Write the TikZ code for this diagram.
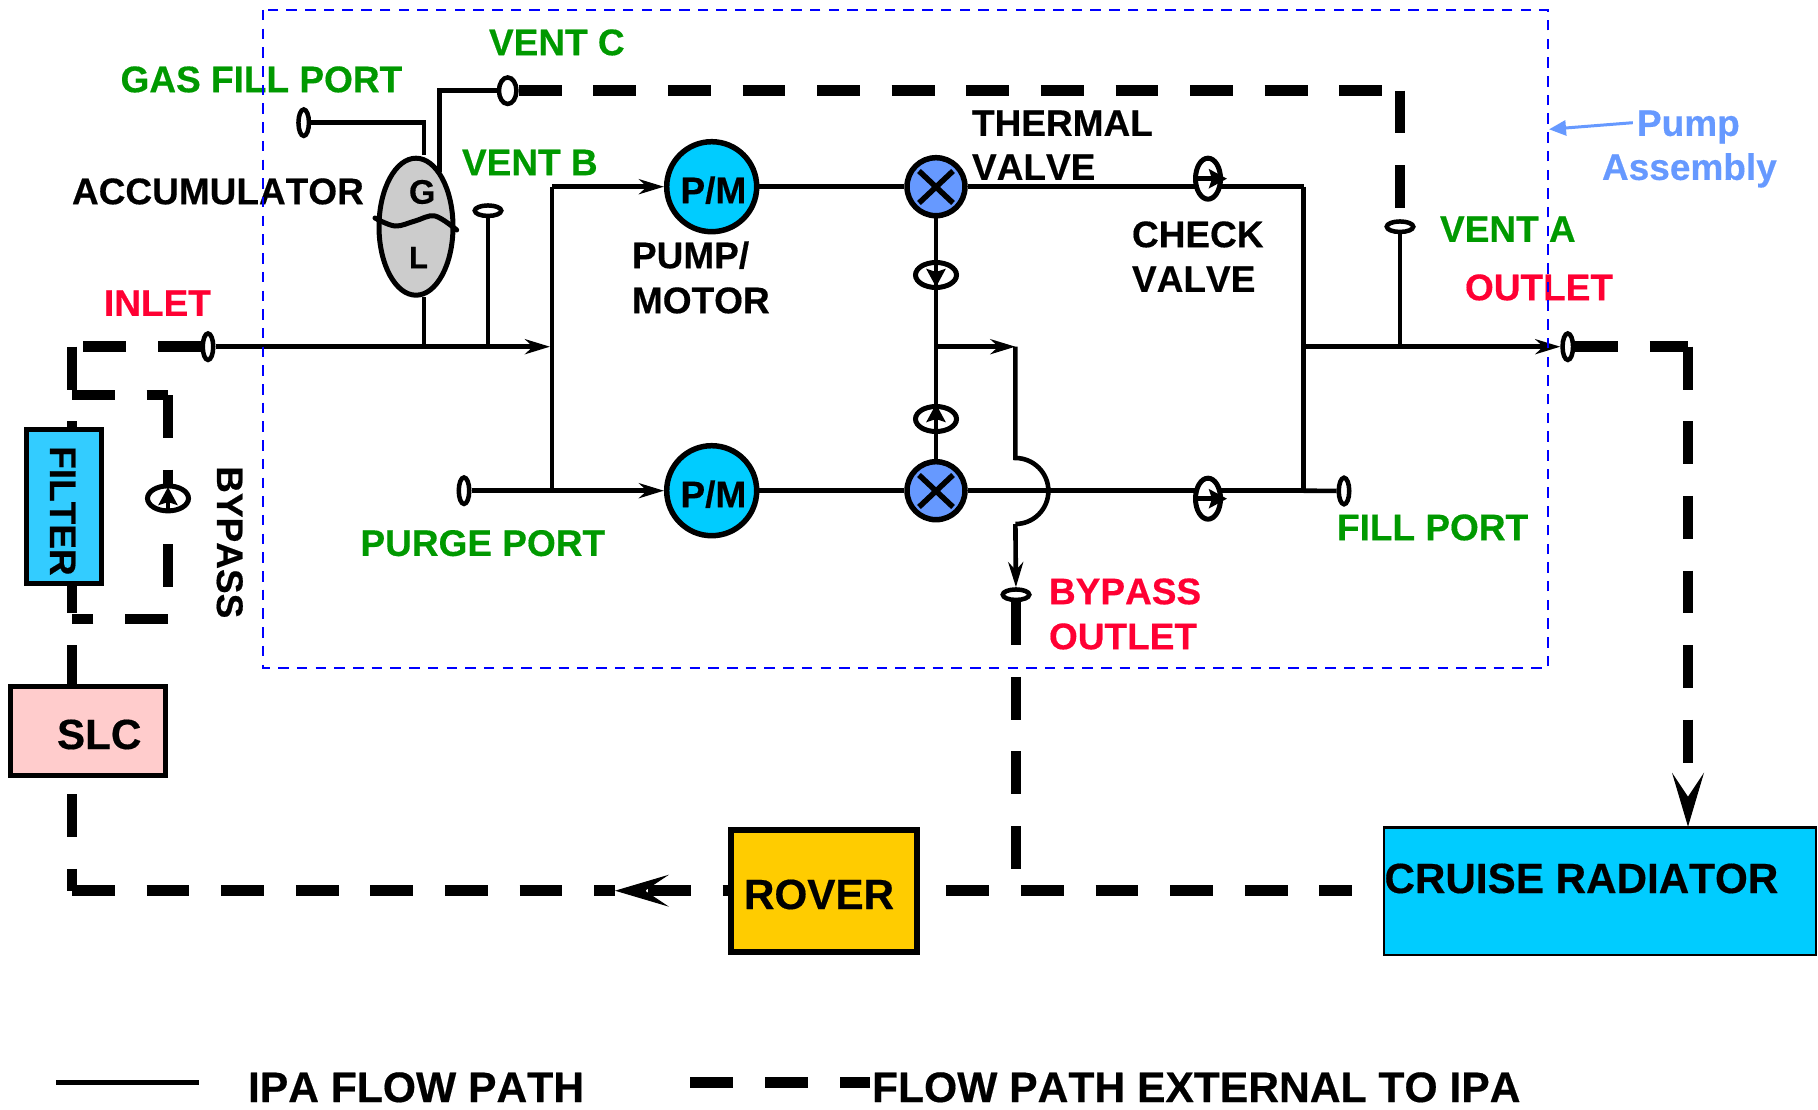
\documentclass[tikz,border=0pt]{standalone}
\usepackage{fontspec}
\setmainfont{Liberation Sans}[Kerning=Off,BoldFeatures={FakeBold=0.4}]
\usetikzlibrary{arrows.meta,shapes.geometric}
\definecolor{lblgreen}{HTML}{009900}
\definecolor{lblred}{HTML}{FF0033}
\definecolor{lblblue}{HTML}{6699FF}
\definecolor{boxblue}{HTML}{33CCFF}
\definecolor{cyanfill}{HTML}{00CCFF}
\definecolor{pinkfill}{HTML}{FFCCCC}
\definecolor{roverfill}{HTML}{FFCC00}
\definecolor{asmblue}{HTML}{0000FF}
\tikzset{
  txt/.style={anchor=base west,inner sep=0pt,outer sep=0pt,yshift=0.8pt,font=\fontsize{37}{37}\selectfont\bfseries},
  big/.style={txt,yshift=-0.8pt,font=\fontsize{42.2}{42.2}\selectfont\bfseries},
  green/.style={txt,text=lblgreen},
  red/.style={txt,text=lblred},
  flow/.style={line width=4.6pt,line cap=butt,line join=miter},
  ext/.style={line width=10.7pt,line cap=butt,dash pattern=on 42.8pt off 31.8pt},
  portv/.style={ellipse,draw,line width=4.5pt,fill=white,inner sep=0pt,minimum width=10.5pt,minimum height=26.5pt},
  porth/.style={ellipse,draw,line width=4.5pt,fill=white,inner sep=0pt,minimum width=26.5pt,minimum height=10.5pt},
  pumpnode/.style={circle,draw,line width=5.5pt,fill=cyanfill,inner sep=0pt,minimum size=90pt},
  valvenode/.style={circle,draw,line width=5.5pt,fill=lblblue,inner sep=0pt,minimum size=58pt},
  chkh/.style={ellipse,draw,line width=5pt,fill=white,inner sep=0pt,minimum width=41pt,minimum height=25pt},
  chkv/.style={ellipse,draw,line width=5pt,fill=white,inner sep=0pt,minimum width=25pt,minimum height=41pt},
  arr/.style={-{Stealth[length=25pt,width=15pt,inset=8pt]}},
  chktip/.style={-{Stealth[length=18pt,width=19pt,inset=3pt]}},
  bigtip/.style={line width=1pt,-{Stealth[length=54pt,width=32pt,inset=24pt]}},
  boxnode/.style={rectangle,draw,inner sep=0pt}
}
\begin{document}
\begin{tikzpicture}[x=1pt,y=-1pt]
\useasboundingbox (0,0) rectangle (1818,1110);
\fill[white] (0,0) rectangle (1818,1110);

% ports
\node[portv] (inlet) at (208,346.7) {};
\node[portv] (gasport) at (303.7,122.7) {};
\node[portv,minimum width=17.5pt] (ventC) at (507.7,90.7) {};
\node[porth] (ventB) at (488,210.7) {};
\node[porth] (ventA) at (1400,226.7) {};
\node[portv] (purge) at (464,490.7) {};
\node[portv] (fillport) at (1344,491) {};
\node[portv] (outletport) at (1567.8,346.7) {};
\node[porth] (bypassport) at (1016,594.7) {};

% junctions and corners
\coordinate (cTL) at (72,346.7);
\coordinate (cBL) at (72,890.7);
\coordinate (cIn) at (72,395);
\coordinate (cInR) at (168,395);
\coordinate (cByE) at (168,612);
\coordinate (cByB) at (168,619);
\coordinate (cByL) at (72,619);
\coordinate (cArrowRover) at (615,890.7);
\coordinate (cArrowRoverB) at (646,890.7);
\coordinate (cBusW) at (648,890.7);
\coordinate (cBusE) at (1352,890.7);
\coordinate (cBypassB) at (1016,885);
\coordinate (cVentCR) at (1400,90.7);
\coordinate (cOutR) at (1688,346.7);
\coordinate (cRadEnd) at (1688,765);
\coordinate (cRadA) at (1688,798);
\coordinate (cRadIn) at (1688,826.7);

% external flow path
\draw[ext] (inlet) -- (cTL);
\draw[ext] (cTL) -- (cBL);
\draw[ext] (cIn) -- (cInR);
\draw[ext] (cInR) -- (cByE);
\draw[ext] (cByB) -- (cByL);
\draw[ext] (cBL) -- (cArrowRover);
\draw[bigtip] (cArrowRoverB) -- (cArrowRover);
\draw[ext] (cBusW) -- (cBusE);
\draw[ext] (bypassport) -- (cBypassB);
\draw[ext] (ventC) -- (cVentCR);
\draw[ext] (cVentCR) -- (ventA);
\draw[ext] (outletport) -- (cOutR);
\draw[ext] (cOutR) -- (cRadEnd);
\draw[bigtip] (cRadA) -- (cRadIn);

% boxes
\node[boxnode,line width=5pt,fill=boxblue,minimum width=75pt,minimum height=154pt] (filter) at (64,506.5) {};
\node[boxnode,line width=5pt,fill=pinkfill,minimum width=155pt,minimum height=89pt] (slc) at (88,731) {};
\node[boxnode,line width=6pt,fill=roverfill,minimum width=186pt,minimum height=122pt] (rover) at (824,891) {};
\node[boxnode,line width=2.2pt,fill=cyanfill,minimum width=432pt,minimum height=127.5pt] (radiator) at (1600,891.2) {};

% accumulator
\node[ellipse,draw,line width=5pt,fill=black!20,inner sep=0pt,minimum width=74pt,minimum height=137pt] (accu) at (416,226.7) {};
\draw[line width=5pt,line cap=round] plot[smooth,tension=0.6] coordinates {(375,218) (395,226) (415,221) (435,216) (456.7,230)};

% pumps and valves
\node[pumpnode] (pumpA) at (711.7,186.7) {};
\node[pumpnode] (pumpB) at (711.7,490.7) {};
\node[valvenode] (valveA) at (936,186.7) {};
\node[valvenode] (valveB) at (936,490.7) {};
\draw[line width=5.5pt] (919,171) -- (953,203) (953,171) -- (919,203);
\draw[line width=5.5pt] (919,475) -- (953,507) (953,475) -- (919,507);

\node[chkh] (chkC) at (936,275) {};
\node[chkh] (chkD) at (936,419) {};
\node[chkh] (chkE) at (168,498.4) {};

% coordinates of the thin flow path
\coordinate (jGas) at (424,155);
\coordinate (jVc) at (439.7,172);
\coordinate (jAb) at (424,297);
\coordinate (jAm) at (424,346.7);
\coordinate (jVb) at (488,346.7);
\coordinate (jMain) at (550,346.7);
\coordinate (jTop) at (552,186.7);
\coordinate (jBot) at (552,490.7);
\coordinate (jBr) at (936,346.7);
\coordinate (jBrT) at (1015.4,346.7);
\coordinate (jArcA) at (1015.4,458);
\coordinate (jArcM) at (1048.4,491);
\coordinate (jArcB) at (1015.4,524);
\coordinate (jRT) at (1303.7,186.7);
\coordinate (jRB) at (1303.7,490.7);
\coordinate (jRM) at (1303.7,346.7);
\coordinate (jVa) at (1400,346.7);

% thin flow path
\draw[flow] (gasport) -| (jGas);
\draw[flow] (ventC) -| (jVc);
\draw[flow] (jAb) -- (jAm);
\draw[flow] (ventB) -- (jVb);
\draw[flow,arr] (inlet) -- (jMain);
\draw[flow] (jTop) -- (jBot);
\draw[flow,arr] (jTop) -- (pumpA);
\draw[flow,arr] (purge) -- (pumpB);
\draw[flow] (pumpA) -- (valveA);
\draw[flow] (pumpB) -- (valveB);
\draw[flow] (valveA) -- (valveB);
\draw[flow] (valveA) -- (jRT);
\draw[flow] (valveB) -- (jRB);
\draw[flow] (jRT) -- (jRB);
\draw[flow] (jRB) -- (fillport);
\draw[flow,arr] (jRM) -- (outletport);
\draw[flow] (ventA) -- (jVa);
\draw[flow,arr] (jBr) -- (jBrT);
\draw[flow] (jBrT) -- (jArcA) .. controls (1033.6,458) and (1048.4,472.8) .. (jArcM) .. controls (1048.4,509.2) and (1033.6,524) .. (jArcB);
\draw[flow,arr] (jArcB) -- (bypassport);

% check valves that interrupt the lines, and their arrows
\node[chkv] (chkA) at (1208,178.7) {};
\node[chkv] (chkB) at (1208,498.7) {};
\coordinate (tA0) at (1193,178.7); \coordinate (tA1) at (1227,178.7);
\coordinate (tB0) at (1193,498.7); \coordinate (tB1) at (1227,498.7);
\coordinate (tC0) at (936,262); \coordinate (tC1) at (936,287);
\coordinate (tD0) at (936,432); \coordinate (tD1) at (936,404);
\coordinate (tE0) at (168,512); \coordinate (tE1) at (168,487);
\draw[flow,chktip] (tA0) -- (tA1);
\draw[flow,chktip] (tB0) -- (tB1);
\draw[flow,chktip] (tC0) -- (tC1);
\draw[flow,chktip] (tD0) -- (tD1);
\draw[flow,chktip] (tE0) -- (tE1);

% labels
\node[green] (lGas) at (120.6,93) {GAS FILL PORT};
\node[green] (lVentC) at (489,56) {VENT C};
\node[green] (lVentB) at (462,176) {VENT B};
\node[green] (lVentA) at (1440,242.7) {VENT A};
\node[green] (lPurge) at (360.5,556.7) {PURGE PORT};
\node[green] (lFill) at (1337,541) {FILL PORT};
\node[red] (lInlet) at (104,316.7) {INLET};
\node[red] (lOutlet) at (1465,301) {OUTLET};
\node[red] (lBp1) at (1049,605) {BYPASS};
\node[red] (lBp2) at (1049,650) {OUTLET};
\node[txt] (lAcc) at (72,205) {ACCUMULATOR};
\node[txt,font=\fontsize{34}{34}\selectfont\bfseries] (lG) at (409,204.5) {G};
\node[txt,font=\fontsize{31}{31}\selectfont\bfseries] (lL) at (409,269) {L};
\node[txt] (lPm1) at (680.5,204) {P/M};
\node[txt] (lPm2) at (680.5,508) {P/M};
\node[txt] (lPump) at (632,269) {PUMP/};
\node[txt] (lMotor) at (632,314) {MOTOR};
\node[txt] (lTherm) at (972,136.7) {THERMAL};
\node[txt] (lValve) at (972,180.7) {VALVE};
\node[txt] (lCheck) at (1132,248) {CHECK};
\node[txt] (lValve2) at (1132,292.7) {VALVE};
\node[txt,rotate=-90] (lFilter) at (50,447) {FILTER};
\node[txt,rotate=-90] (lBypass) at (217,467) {BYPASS};
\node[big] (lSlc) at (57,749) {SLC};
\node[big] (lRover) at (744,909) {ROVER};
\node[big] (lRad) at (1384.5,893) {CRUISE RADIATOR};
\node[txt,text=lblblue] (lPumpA) at (1637,136.7) {Pump};
\node[txt,text=lblblue] (lAsm) at (1602,180.7) {Assembly};
\coordinate (pTail) at (1632.8,122.7);
\coordinate (pTip) at (1549,129.3);
\draw[lblblue,line width=3pt,-{Stealth[length=17pt,width=15pt,inset=0pt]}] (pTail) -- (pTip);

% legend
\coordinate (lgA) at (56,1082);
\coordinate (lgB) at (199,1082);
\coordinate (lgC) at (690,1082.7);
\coordinate (lgD) at (870,1082.7);
\draw[line width=5pt] (lgA) -- (lgB);
\draw[line width=10.7pt,dash pattern=on 43pt off 32pt] (lgC) -- (lgD);
\node[big,font=\fontsize{42.6}{42.6}\selectfont\bfseries] (lIpa) at (248,1102) {IPA FLOW PATH};
\node[big,font=\fontsize{42.6}{42.6}\selectfont\bfseries] (lExt) at (872,1102) {FLOW PATH EXTERNAL TO IPA};

% pump assembly boundary
\draw[asmblue,line width=2.8pt,dash pattern=on 10.5pt off 8.2pt] (263,10) rectangle (1548,668);
\end{tikzpicture}
\end{document}
